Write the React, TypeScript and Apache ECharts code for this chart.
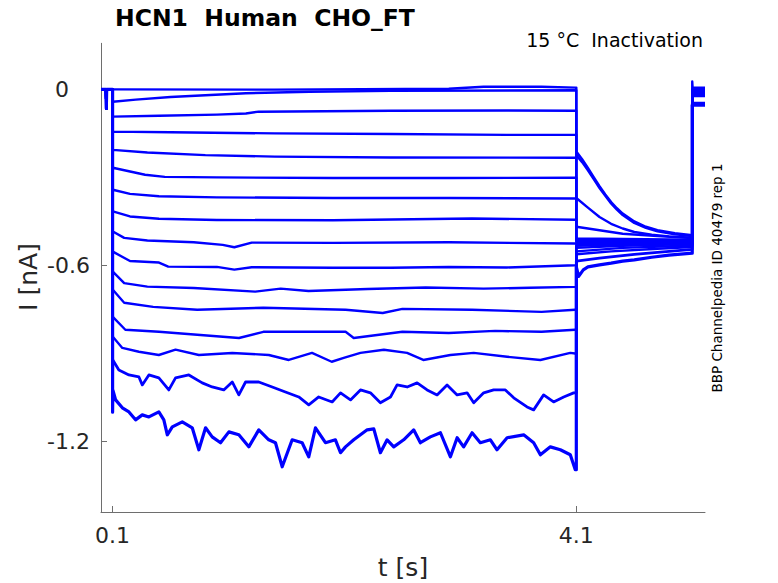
import React, { useEffect, useRef } from "react";
import * as echarts from "echarts";

// ---- axes ----
const X_MIN = 0;
const X_MAX = 5.21;
const Y_MIN = -1.44;
const Y_MAX = 0.157;
const xTickValues = [0.1, 4.1];
const yTickValues = [-1.2, -0.6, 0];

// ---- protocol step times (s) ----
const STEP_ON = 0.1;
const STEP_TEST = 4.1;
const STEP_OFF = 5.1;
const POST_START = 5.103;

// ---- holding segment, shared by all sweeps (t s, I nA) ----
const holdTimes = [0, 0.043, 0.046, 0.049, 0.1];
const holdCurrent = [0, 0, -0.065, 0, 0];

// ---- capacitive peaks and after-pulse level per sweep (nA) ----
const onsetSpike = [0, -0.05, -0.1, -0.155, -0.22, -0.285, -0.36, -0.44, -0.51, -0.58, -0.65, -0.72, -0.81, -0.88, -0.97, -1.1];
const offsetSpike = [0.027, 0.0, -0.002, -0.004, -0.006, -0.008, -0.01, -0.012, -0.014, -0.016, -0.018, -0.02, -0.022, -0.046, -0.05, -0.054];
const postLevel = [0.006, 0.002, -0.001, -0.003, -0.005, -0.007, -0.009, -0.011, -0.013, -0.015, -0.017, -0.02, -0.023, -0.046, -0.05, -0.054];

// ---- conditioning pulse (0.1 – 4.1 s), [t, I] ----
const pulse01 = [[0.102, 0.0], [1.5, -0.001], [3.0, 0.002], [3.3, 0.009], [3.8, 0.009], [4.09, 0.006]];
const pulse02 = [[0.102, -0.042], [0.3, -0.035], [0.6, -0.026], [0.9, -0.02], [1.25, -0.013], [1.8, -0.008], [2.5, -0.005], [4.09, -0.003]];
const pulse03 = [[0.102, -0.093], [0.5, -0.09], [1.0, -0.086], [1.25, -0.082], [1.36, -0.076], [2.5, -0.073], [3.5, -0.072], [4.09, -0.073]];
const pulse04 = [[0.102, -0.144], [0.6, -0.146], [1.5, -0.15], [2.5, -0.152], [3.5, -0.155], [4.09, -0.155]];
const pulse05 = [[0.102, -0.206], [0.4, -0.215], [0.9, -0.224], [1.5, -0.229], [2.5, -0.232], [4.09, -0.233]];
const pulse06 = [[0.102, -0.267], [0.38, -0.291], [0.55, -0.298], [1.0, -0.3], [2.0, -0.302], [3.0, -0.302], [4.09, -0.301]];
const pulse07 = [[0.102, -0.342], [0.25, -0.356], [0.5, -0.364], [1.0, -0.368], [2.0, -0.37], [3.0, -0.37], [4.09, -0.372]];
const pulse08 = [[0.102, -0.416], [0.25, -0.433], [0.5, -0.441], [1.0, -0.445], [2.0, -0.446], [3.2, -0.44], [4.09, -0.444]];
const pulse09 = [[0.102, -0.484], [0.2, -0.506], [0.4, -0.515], [0.8, -0.521], [1.05, -0.53], [1.15, -0.538], [1.3, -0.522], [2.0, -0.523], [3.0, -0.521], [4.09, -0.525]];
const pulse10 = [[0.102, -0.553], [0.25, -0.585], [0.5, -0.59], [0.58, -0.604], [1.0, -0.605], [1.15, -0.614], [1.3, -0.606], [2.0, -0.608], [2.5, -0.608], [3.0, -0.605], [3.5, -0.607], [4.09, -0.599]];
const pulse11 = [[0.102, -0.621], [0.2, -0.66], [0.4, -0.672], [0.8, -0.677], [1.33, -0.689], [1.55, -0.679], [1.79, -0.687], [2.3, -0.68], [2.8, -0.675], [3.3, -0.679], [3.7, -0.676], [4.09, -0.673]];
const pulse12 = [[0.102, -0.683], [0.2, -0.727], [0.45, -0.741], [0.83, -0.751], [1.4, -0.744], [2.11, -0.751], [2.43, -0.762], [2.6, -0.748], [3.2, -0.751], [3.8, -0.758], [4.09, -0.751]];
const pulse13 = [[0.102, -0.775], [0.21, -0.819], [0.5, -0.826], [0.83, -0.836], [1.19, -0.847], [1.4, -0.826], [1.68, -0.826], [2.11, -0.826], [2.18, -0.847], [2.6, -0.826], [3.0, -0.83], [3.4, -0.823], [3.8, -0.826], [4.09, -0.819]];
const pulse14 = [[0.102, -0.843], [0.184, -0.881], [0.327, -0.894], [0.499, -0.905], [0.643, -0.887], [0.844, -0.905], [1.132, -0.898], [1.447, -0.905], [1.62, -0.922], [1.82, -0.898], [1.99, -0.928], [2.094, -0.915], [2.238, -0.898], [2.44, -0.887], [2.64, -0.898], [2.78, -0.922], [3.014, -0.905], [3.215, -0.898], [3.503, -0.911], [3.79, -0.922], [4.048, -0.898], [4.09, -0.9]];
const pulse15 = [[0.102, -0.922], [0.154, -0.956], [0.241, -0.973], [0.327, -0.98], [0.356, -1.007], [0.413, -0.973], [0.499, -0.983], [0.585, -1.024], [0.643, -0.983], [0.758, -0.973], [0.873, -1.0], [0.959, -1.014], [1.059, -1.024], [1.132, -0.997], [1.189, -1.041], [1.247, -0.997], [1.361, -0.997], [1.477, -1.014], [1.591, -1.031], [1.706, -1.048], [1.792, -1.075], [1.878, -1.048], [1.994, -1.065], [2.066, -1.034], [2.152, -1.058], [2.238, -1.024], [2.324, -1.034], [2.41, -1.068], [2.497, -1.048], [2.554, -1.007], [2.641, -1.014], [2.727, -1.0], [2.813, -1.024], [2.899, -1.041], [2.985, -1.007], [3.072, -1.041], [3.158, -1.034], [3.215, -1.068], [3.301, -1.034], [3.387, -1.024], [3.488, -1.024], [3.56, -1.051], [3.675, -1.082], [3.732, -1.092], [3.818, -1.041], [3.904, -1.065], [3.991, -1.048], [4.077, -1.034]];
const pulse16 = [[0.102, -1.024], [0.126, -1.058], [0.184, -1.085], [0.241, -1.099], [0.298, -1.126], [0.356, -1.109], [0.413, -1.116], [0.499, -1.099], [0.542, -1.126], [0.572, -1.177], [0.615, -1.15], [0.701, -1.133], [0.787, -1.153], [0.844, -1.228], [0.902, -1.153], [0.959, -1.184], [1.031, -1.204], [1.103, -1.167], [1.189, -1.177], [1.275, -1.218], [1.361, -1.16], [1.447, -1.194], [1.505, -1.204], [1.563, -1.286], [1.649, -1.194], [1.735, -1.204], [1.792, -1.252], [1.85, -1.153], [1.936, -1.204], [2.022, -1.194], [2.066, -1.238], [2.109, -1.218], [2.18, -1.194], [2.238, -1.177], [2.296, -1.16], [2.353, -1.157], [2.41, -1.238], [2.468, -1.194], [2.525, -1.218], [2.611, -1.194], [2.697, -1.16], [2.755, -1.204], [2.841, -1.184], [2.928, -1.17], [3.014, -1.252], [3.072, -1.187], [3.128, -1.218], [3.201, -1.17], [3.272, -1.204], [3.359, -1.194], [3.416, -1.228], [3.503, -1.187], [3.646, -1.177], [3.732, -1.204], [3.79, -1.245], [3.876, -1.218], [3.962, -1.228], [4.048, -1.245], [4.091, -1.296]];

// ---- test pulse tails (4.1 – 5.1 s), [t, I] ----
const tail01 = [[4.1, -0.212], [4.15, -0.238], [4.2, -0.268], [4.25, -0.299], [4.3, -0.33], [4.35, -0.358], [4.4, -0.384], [4.45, -0.405], [4.5, -0.423], [4.6, -0.45], [4.7, -0.468], [4.8, -0.48], [4.95, -0.49], [5.1, -0.497]];
const tail02 = [[4.1, -0.224], [4.15, -0.248], [4.2, -0.276], [4.25, -0.306], [4.3, -0.336], [4.35, -0.363], [4.4, -0.389], [4.45, -0.41], [4.5, -0.428], [4.6, -0.455], [4.7, -0.472], [4.8, -0.484], [4.95, -0.494], [5.1, -0.5]];
const tail03 = [[4.1, -0.37], [4.2, -0.403], [4.3, -0.435], [4.4, -0.458], [4.5, -0.474], [4.6, -0.486], [4.75, -0.495], [4.9, -0.501], [5.1, -0.505]];
const tail04 = [[4.1, -0.468], [4.3, -0.48], [4.5, -0.492], [4.8, -0.5], [5.1, -0.507]];
const tail05 = [[4.1, -0.508], [4.5, -0.51], [5.1, -0.512]];
const tail06 = [[4.1, -0.512], [4.5, -0.514], [5.1, -0.515]];
const tail07 = [[4.1, -0.517], [4.5, -0.517], [5.1, -0.517]];
const tail08 = [[4.1, -0.521], [4.5, -0.52], [5.1, -0.519]];
const tail09 = [[4.1, -0.525], [4.5, -0.523], [5.1, -0.521]];
const tail10 = [[4.1, -0.529], [4.5, -0.526], [5.1, -0.523]];
const tail11 = [[4.1, -0.533], [4.5, -0.529], [5.1, -0.525]];
const tail12 = [[4.1, -0.54], [4.5, -0.533], [5.1, -0.527]];
const tail13 = [[4.1, -0.552], [4.5, -0.54], [5.1, -0.532]];
const tail14 = [[4.1, -0.562], [4.4, -0.552], [4.8, -0.543], [5.1, -0.537]];
const tail15 = [[4.1, -0.585], [4.3, -0.575], [4.6, -0.562], [4.9, -0.552], [5.1, -0.545]];
const tail16 = [[4.1, -0.605], [4.12, -0.637], [4.16, -0.615], [4.2, -0.605], [4.3, -0.598], [4.4, -0.592], [4.5, -0.585], [4.6, -0.581], [4.75, -0.572], [4.9, -0.565], [5.1, -0.558]];

const pulses = [pulse01, pulse02, pulse03, pulse04, pulse05, pulse06, pulse07, pulse08, pulse09, pulse10, pulse11, pulse12, pulse13, pulse14, pulse15, pulse16];
const tails = [tail01, tail02, tail03, tail04, tail05, tail06, tail07, tail08, tail09, tail10, tail11, tail12, tail13, tail14, tail15, tail16];

const FONT = '"DejaVu Sans", "Liberation Sans", sans-serif';
const TRACE = "#0000ff";
const AXIS = "#6e6e6e";
const TEXT = "#262626";

function buildSweep(k: number): number[][] {
  const pts: number[][] = [];
  holdTimes.forEach((t, i) => pts.push([t, holdCurrent[i]]));
  pts.push([STEP_ON, onsetSpike[k]]);
  const p = pulses[k];
  p.forEach((q) => pts.push(q));
  pts.push([STEP_TEST, p[p.length - 1][1]]);
  tails[k].forEach((q) => pts.push(q));
  pts.push([STEP_OFF, offsetSpike[k]]);
  pts.push([POST_START, postLevel[k]]);
  pts.push([X_MAX, postLevel[k]]);
  return pts;
}

function traceWidth(k: number): number {
  if (k === 15) return 3.2;
  if (k === 14) return 2.8;
  return 2.4;
}

export default function App() {
  const ref = useRef<HTMLDivElement>(null);
  useEffect(() => {
    if (!ref.current) return;
    const chart = echarts.init(ref.current, null, { renderer: "svg" });
    const series = pulses.map((_, k) => ({
      type: "line",
      name: "sweep " + (k + 1),
      data: buildSweep(k),
      showSymbol: false,
      symbol: "none",
      lineStyle: { color: TRACE, width: traceWidth(k), join: "round" },
      itemStyle: { color: TRACE },
      emphasis: { disabled: true },
      silent: true,
      z: 2,
    }));
    chart.setOption({
      animation: false,
      backgroundColor: "#ffffff",
      grid: { left: 101, right: 73, top: 43.3, bottom: 71, containLabel: false, outerBoundsMode: "none" },
      xAxis: {
        type: "value",
        min: X_MIN,
        max: X_MAX,
        axisLine: { show: true, onZero: false, lineStyle: { color: AXIS, width: 1 } },
        axisTick: { show: true, inside: true, length: 6, customValues: xTickValues, lineStyle: { color: AXIS } },
        axisLabel: {
          show: true,
          customValues: xTickValues,
          formatter: (v: number) => String(v),
          fontFamily: FONT,
          fontSize: 22,
          color: TEXT,
          margin: 12,
        },
        splitLine: { show: false },
      },
      yAxis: {
        type: "value",
        min: Y_MIN,
        max: Y_MAX,
        axisLine: { show: true, onZero: false, lineStyle: { color: AXIS, width: 1 } },
        axisTick: { show: true, inside: true, length: 6, customValues: yTickValues, lineStyle: { color: AXIS } },
        axisLabel: {
          show: true,
          customValues: yTickValues,
          formatter: (v: number) => (v === 0 ? "{z|0}" : String(v)),
          rich: { z: { padding: [0, 0, 0, 8], fontFamily: FONT, fontSize: 22, color: TEXT } },
          fontFamily: FONT,
          fontSize: 22,
          color: TEXT,
          align: "left",
          margin: 54,
        },
        splitLine: { show: false },
      },
      graphic: [
        {
          type: "text",
          x: 115,
          y: 18,
          style: { text: "HCN1  Human  CHO_FT", fontFamily: FONT, fontWeight: "bold", fontSize: 23.5, fill: "#000", align: "left", verticalAlign: "middle" },
        },
        {
          type: "text",
          x: 703,
          y: 40,
          style: { text: "15 °C  Inactivation", fontFamily: FONT, fontSize: 19, fill: "#000", align: "right", verticalAlign: "middle" },
        },
        {
          type: "text",
          x: 717,
          y: 278,
          rotation: Math.PI / 2,
          style: { text: "BBP Channelpedia ID 40479 rep 1", fontFamily: FONT, fontSize: 13.5, fill: "#000", align: "center", verticalAlign: "middle" },
        },
        {
          type: "text",
          x: 403,
          y: 567,
          style: { text: "t [s]", fontFamily: FONT, fontSize: 25, fill: TEXT, align: "center", verticalAlign: "middle" },
        },
        {
          type: "text",
          x: 28,
          y: 277,
          rotation: Math.PI / 2,
          style: { text: "I [nA]", fontFamily: FONT, fontSize: 25, fill: TEXT, align: "center", verticalAlign: "middle" },
        },
      ],
      series,
    });
    return () => chart.dispose();
  }, []);
  return <div ref={ref} style={{ position: "fixed", left: 0, top: 0, width: 778, height: 583 }} />;
}
